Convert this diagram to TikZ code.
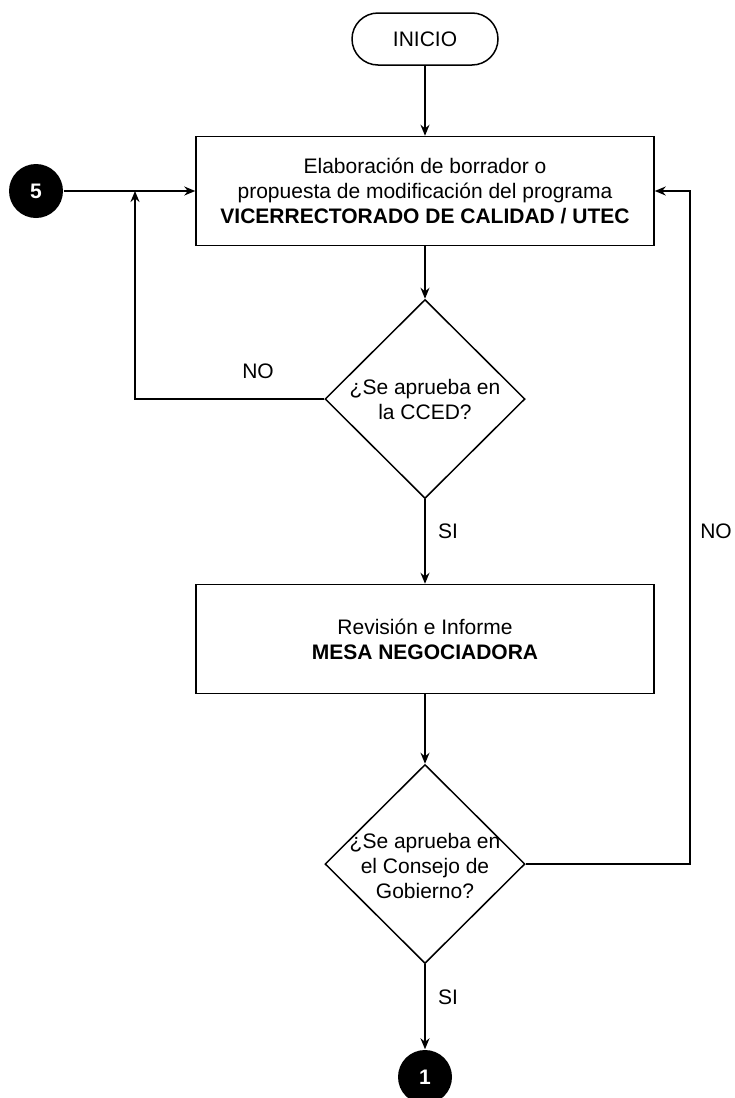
\documentclass[tikz,border=0pt]{standalone}
\usepackage{fontspec}
\setmainfont{Liberation Sans}
\usetikzlibrary{shapes.geometric,arrows.meta}

\begin{document}
\begin{tikzpicture}[x=0.5pt, y=-0.5pt,
    font=\fontsize{10.5}{12.5}\selectfont,
    line width=0.75pt,
    >={Stealth[length=5.5pt,width=4.5pt]},
    terminal/.style={draw, rectangle, rounded corners=13pt, minimum width=73pt, minimum height=26pt},
    process/.style={draw, rectangle, minimum width=229pt, minimum height=54.5pt, align=center, inner sep=0pt},
    decision/.style={draw, diamond, minimum width=100pt, minimum height=99.5pt, inner sep=0pt},
    connector/.style={circle, fill=black, text=white, font=\fontsize{10.5}{12.5}\selectfont\bfseries, minimum size=27pt, inner sep=0pt},
    lbl/.style={inner sep=1pt}]

    \useasboundingbox (0,0) rectangle (734,1098);

    % Start and first step
    \node[terminal] (inicio) at (425,39) {INICIO};
    \node[process] (borrador) at (425,191) {Elaboración de borrador o\\propuesta de modificación del programa\\\textbf{VICERRECTORADO DE CALIDAD / UTEC}};
    \node[connector] (c5) at (36,191) {5};
    \coordinate (j1) at (135,191);

    % CCED decision
    \node[decision] (cced) at (425,399) {};
    \node[align=center] (qcced) at (cced) {¿Se aprueba en\\la CCED?};

    % Mesa negociadora
    \node[process] (mesa) at (425,639) {Revisión e Informe\\\textbf{MESA NEGOCIADORA}};

    % Consejo de Gobierno decision
    \node[decision] (consejo) at (425,864) {};
    \node[align=center] (qconsejo) at (425,866) {¿Se aprueba en\\el Consejo de\\Gobierno?};
    \coordinate (r1) at (690,191);

    \node[connector] (c1) at (425,1077) {1};

    % Connectors
    \draw[->] (inicio) -- (borrador);
    \draw[->] (c5) -- (borrador);
    \draw[->] (borrador) -- (cced);
    \draw[->] (cced.west) -| (j1);
    \draw[->] (cced) -- (mesa);
    \draw[->] (mesa) -- (consejo);
    \draw[->] (consejo.east) -| (r1) -- (borrador.east);
    \draw[->] (consejo) -- (c1);

    % Labels
    \node[lbl] (no1) at (258,371) {NO};
    \node[lbl] (si1) at (448,531) {SI};
    \node[lbl] (no2) at (716,531) {NO};
    \node[lbl] (si2) at (448,997) {SI};

\end{tikzpicture}
\end{document}
